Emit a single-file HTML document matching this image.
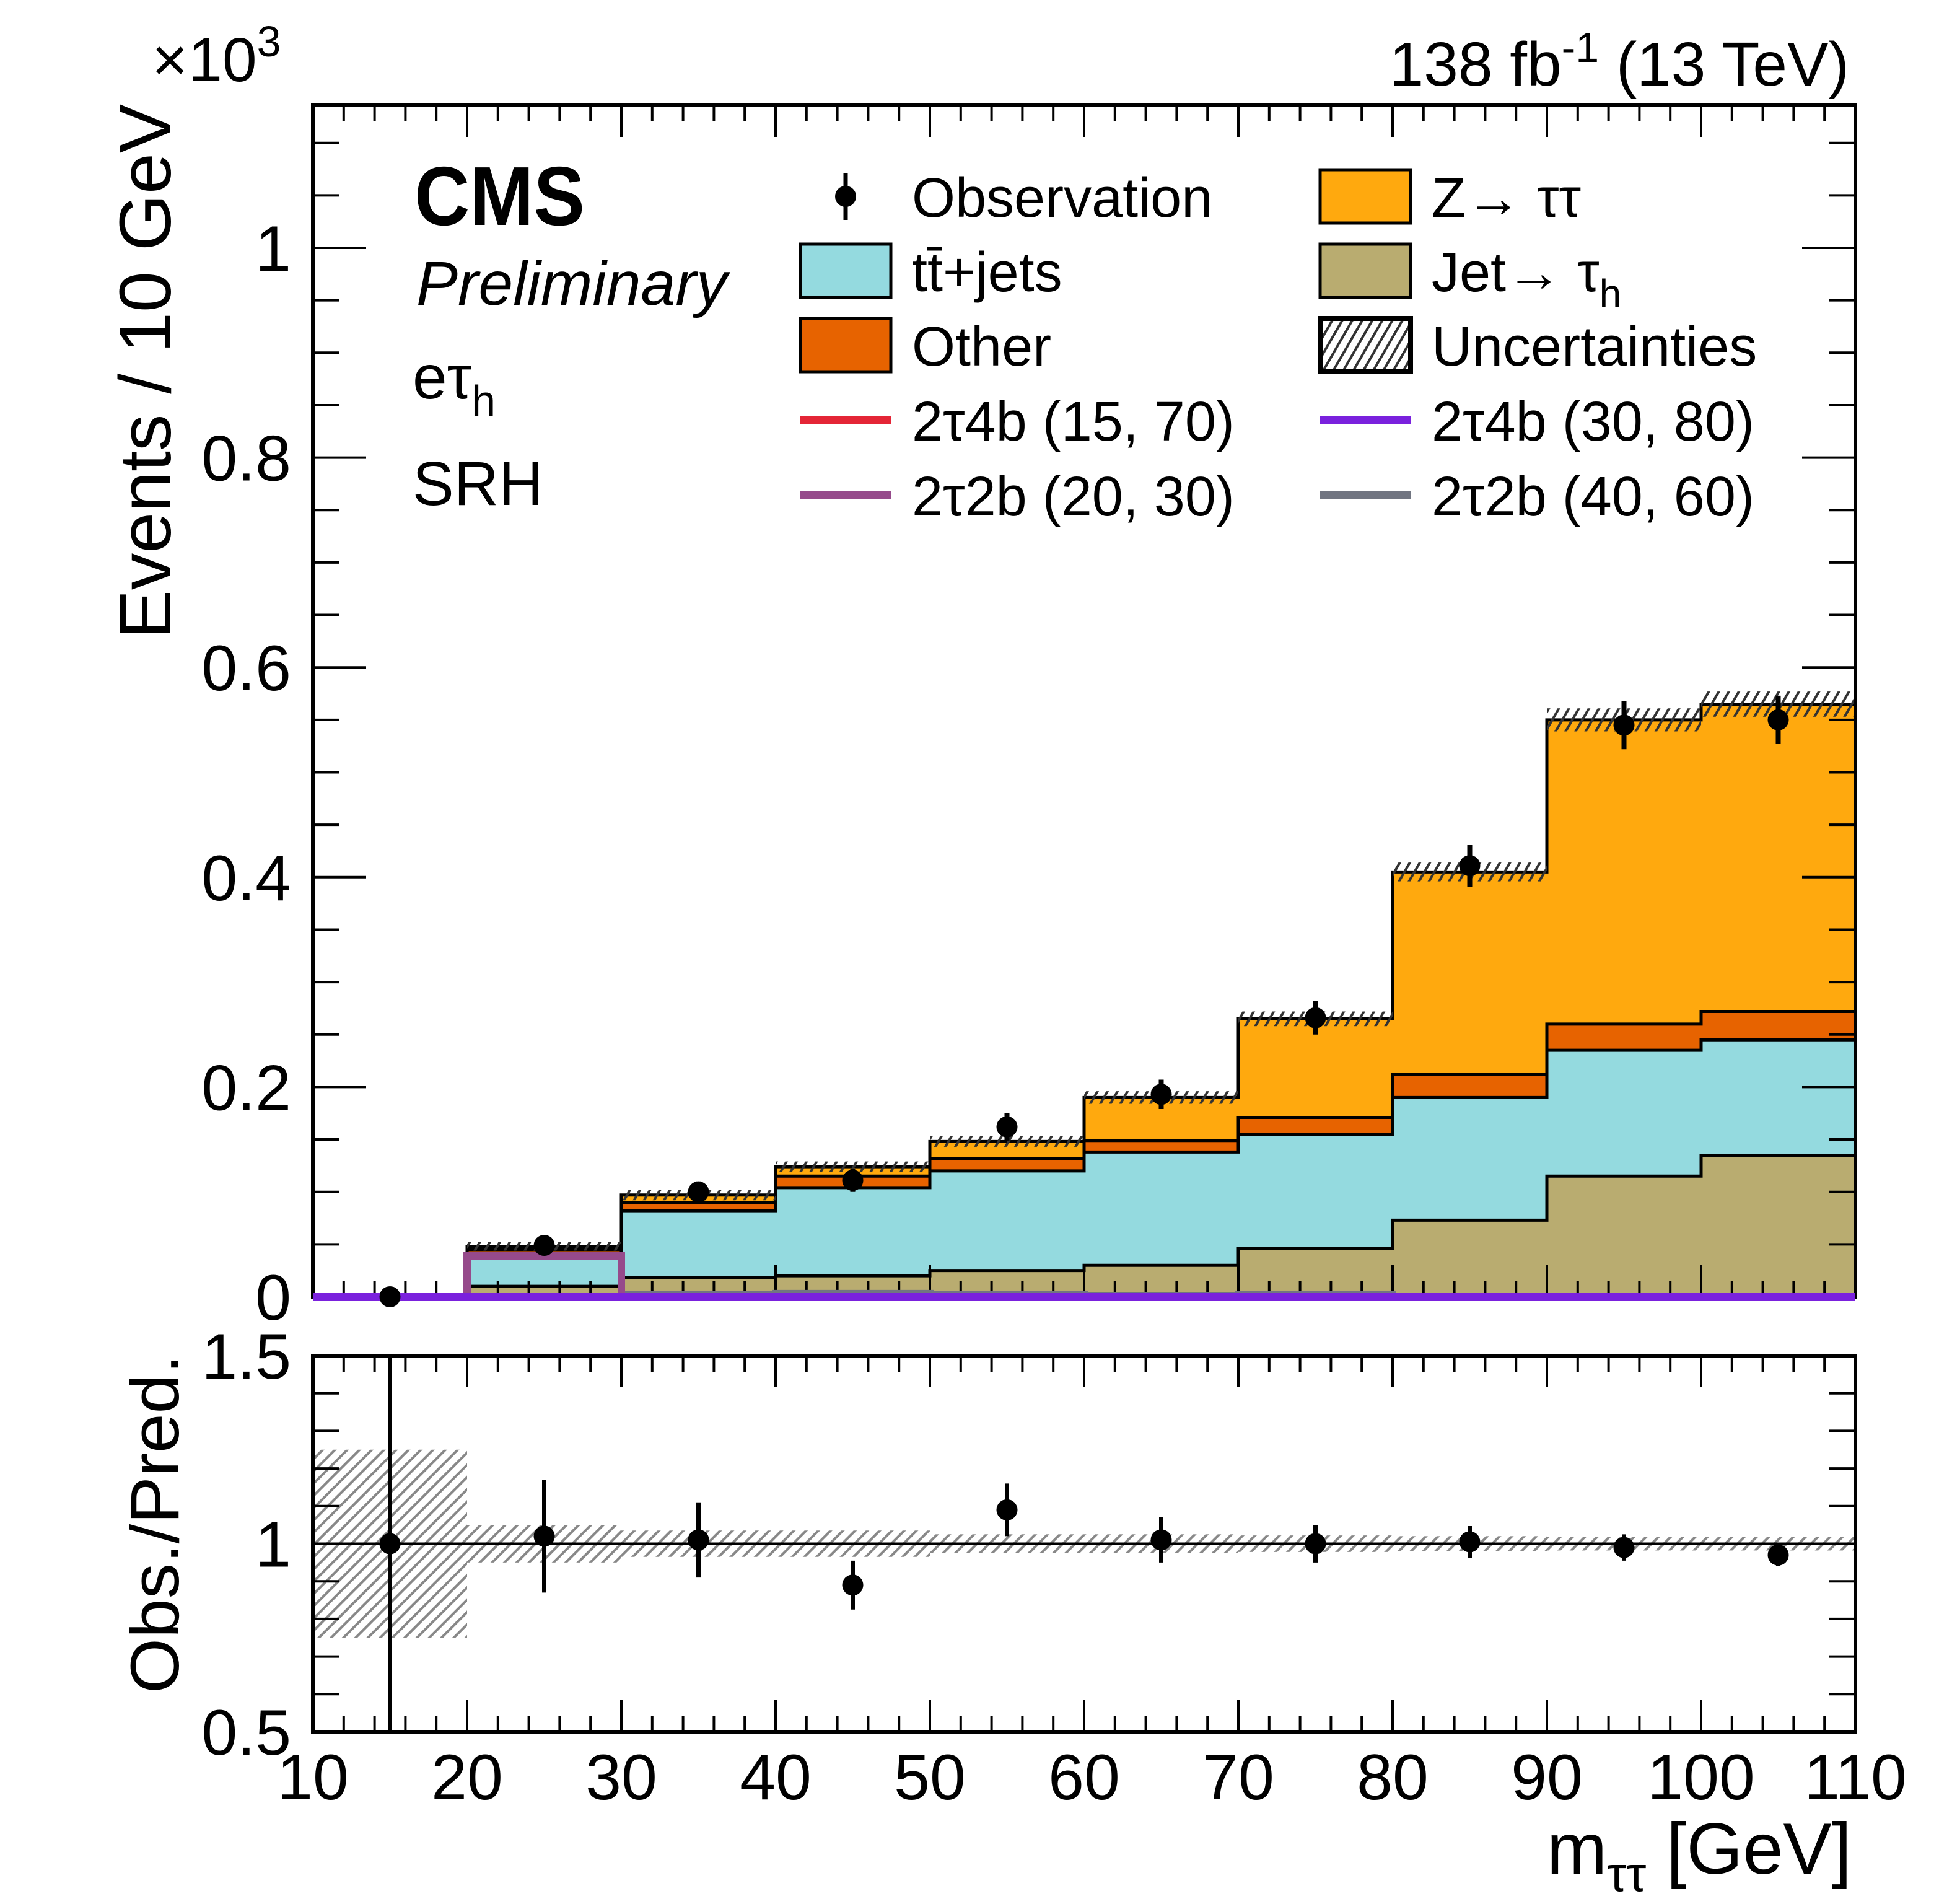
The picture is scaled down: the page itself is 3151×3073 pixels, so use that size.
<!DOCTYPE html>
<html><head><meta charset="utf-8">
<style>
html,body{margin:0;padding:0;background:#fff;}
svg{display:block;font-family:"Liberation Sans",Arial,sans-serif;}
</style></head>
<body>
<svg id="chart" width="3151" height="3073" viewBox="0 0 3151 3073" xmlns="http://www.w3.org/2000/svg">
<defs>
<pattern id="hatch" patternUnits="userSpaceOnUse" width="14" height="14" patternTransform="rotate(-60)">
<rect width="14" height="14" fill="none"/><line x1="0" y1="7" x2="14" y2="7" stroke="#333" stroke-width="4"/>
</pattern>
<pattern id="hatchg" patternUnits="userSpaceOnUse" width="14" height="14" patternTransform="rotate(-45)">
<line x1="0" y1="7" x2="14" y2="7" stroke="#888" stroke-width="4"/>
</pattern>
</defs>
<g id="main"></g>
<g id="ratio"></g>
<g id="frames"></g>
<g id="signals"></g>
<g id="points"></g>
<g id="texts">
<text x="2985" y="138" font-size="100" text-anchor="end">138 fb<tspan dy="-38" font-size="68">-1</tspan><tspan dy="38"> (13 TeV)</tspan></text>
<text x="245" y="131" font-size="100">×10<tspan dy="-40" font-size="70">3</tspan></text>
<text x="669" y="363" font-size="135" font-weight="bold" textLength="275" lengthAdjust="spacingAndGlyphs">CMS</text>
<text x="672" y="492" font-size="100" font-style="italic" textLength="502" lengthAdjust="spacingAndGlyphs">Preliminary</text>
<text x="666" y="643" font-size="100">eτ<tspan dy="28" font-size="70">h</tspan></text>
<text x="666" y="815" font-size="100">SRH</text>
<text transform="translate(275,1031) rotate(-90)" font-size="118" textLength="863" lengthAdjust="spacingAndGlyphs">Events / 10 GeV</text>
<text transform="translate(288,2733) rotate(-90)" font-size="110" textLength="547" lengthAdjust="spacingAndGlyphs">Obs./Pred.</text>
<text x="2989" y="3024" font-size="117" text-anchor="end">m<tspan dy="28" font-size="80">ττ</tspan><tspan dy="-28"> [GeV]</tspan></text>
</g>
<g id="legend"></g>
</svg>
<script>
const edges = [10,20,30,40,50,60,70,80,90,100,110];
const jetTau = [0, 0.010, 0.018, 0.020, 0.025, 0.030, 0.046, 0.073, 0.115, 0.135];
const ttJets = [0, 0.030, 0.064, 0.084, 0.095, 0.108, 0.109, 0.117, 0.120, 0.110];
const other = [0, 0.005, 0.008, 0.011, 0.012, 0.011, 0.016, 0.022, 0.025, 0.027];
const ztautau = [0, 0.003, 0.007, 0.009, 0.016, 0.041, 0.094, 0.193, 0.290, 0.293];
const bkgUnc = [0.001, 0.004, 0.005, 0.005, 0.005, 0.006, 0.007, 0.009, 0.011, 0.012];
const obsVals = [0.0, 0.049, 0.100, 0.111, 0.162, 0.193, 0.266, 0.411, 0.545, 0.550];
const obsErr = [0.001, 0.007, 0.010, 0.011, 0.013, 0.014, 0.016, 0.020, 0.023, 0.023];
const sig2t2b_20_30 = [0, 0.039, 0, 0, 0, 0, 0, 0, 0, 0];
const sig2t4b_30_80 = [0, 0, 0, 0, 0, 0, 0, 0, 0, 0];
const sig2t4b_15_70 = [0, 0, 0, 0, 0, 0, 0, 0, 0, 0];
const sig2t2b_40_60 = [0, 0, 0.002, 0.003, 0.002, 0.001, 0.002, 0, 0, 0];
const ratioVals = [1.0, 1.02, 1.01, 0.89, 1.09, 1.01, 1.0, 1.005, 0.99, 0.97];
const ratioErr = [0.6, 0.15, 0.10, 0.065, 0.07, 0.06, 0.05, 0.042, 0.035, 0.03];
const ratioUnc = [0.25, 0.05, 0.035, 0.035, 0.025, 0.025, 0.022, 0.02, 0.018, 0.018];
const mainTicks = [0, 0.2, 0.4, 0.6, 0.8, 1];
const mainTickLabels = ["0","0.2","0.4","0.6","0.8","1"];
const ratioTicks = [0.5, 1, 1.5];
const ratioTickLabels = ["0.5","1","1.5"];
const xTicks = [10,20,30,40,50,60,70,80,90,100,110];

const NS="http://www.w3.org/2000/svg";
const L=505,R=2995,MT=170,MB=2093,RT=2188,RB=2795;
const YMAX=(MB-MT)/1693;
const sx=v=>L+(v-10)*(R-L)/100;
const sy=v=>MB-v*(MB-MT)/YMAX;
const ry=v=>RB-(v-0.5)*(RB-RT);
function el(tag,attrs,parent){const e=document.createElementNS(NS,tag);for(const k in attrs)e.setAttribute(k,attrs[k]);parent.appendChild(e);return e;}
const main=document.getElementById('main'),ratio=document.getElementById('ratio'),frames=document.getElementById('frames'),lg=document.getElementById('legend'),sigs=document.getElementById('signals'),pts=document.getElementById('points');

function stepPath(top,base){let d='';for(let i=0;i<top.length;i++){d+=(i?'L':'M')+sx(edges[i])+' '+sy(top[i])+' L'+sx(edges[i+1])+' '+sy(top[i]);}
for(let i=top.length-1;i>=0;i--){d+=' L'+sx(edges[i+1])+' '+sy(base[i])+' L'+sx(edges[i])+' '+sy(base[i]);}return d+'Z';}
function stepLine(top){let d='';for(let i=0;i<top.length;i++){d+=(i?'L':'M')+sx(edges[i])+' '+sy(top[i])+' L'+sx(edges[i+1])+' '+sy(top[i]);}return d;}
const c1=jetTau.map(v=>v);
const c2=c1.map((v,i)=>v+ttJets[i]);
const c3=c2.map((v,i)=>v+other[i]);
const c4=c3.map((v,i)=>v+ztautau[i]);
const zero=c1.map(()=>0);
const layers=[[c4,c3,'#ffa90e','ztautau-stack'],[c3,c2,'#e76300','other-stack'],[c2,c1,'#94dadf','ttjets-stack'],[c1,zero,'#b9ac70','jet-fake-stack']];
layers.forEach(([t,b,c,n])=>{
  const p=el('path',{d:stepPath(t,b),fill:c,stroke:'none'},main);
  
  
});
[c4,c3,c2,c1].forEach((t)=>{
  const p=el('path',{d:stepLine(t),fill:'none',stroke:'#000','stroke-width':5},main);
  
  
});
for(let i=0;i<c4.length;i++){
  const r=el('rect',{x:sx(edges[i]),y:sy(c4[i]+bkgUnc[i]),width:sx(edges[i+1])-sx(edges[i]),height:sy(c4[i]-bkgUnc[i])-sy(c4[i]+bkgUnc[i]),fill:'url(#hatch)'},main);
  
  
}
[[sig2t2b_40_60,'#717581','signal-2t2b-40-60'],[sig2t4b_15_70,'#e42536','signal-2t4b-15-70'],[sig2t2b_20_30,'#964a8b','signal-2t2b-20-30'],[sig2t4b_30_80,'#7a21dd','signal-2t4b-30-80']].forEach(([v,c,n])=>{
  let d='M'+sx(edges[0])+' '+sy(0);
  for(let i=0;i<v.length;i++){d+=' L'+sx(edges[i])+' '+sy(v[i])+' L'+sx(edges[i+1])+' '+sy(v[i]);}
  d+=' L'+sx(edges[v.length])+' '+sy(0);
  const p=el('path',{d:d,fill:'none',stroke:c,'stroke-width':12},sigs);
  
  
});
for(let i=0;i<obsVals.length;i++){
  const cx=sx((edges[i]+edges[i+1])/2);
  const g=el('g',{},pts);
  
  
  el('line',{x1:cx,x2:cx,y1:sy(obsVals[i]-obsErr[i]),y2:sy(obsVals[i]+obsErr[i]),stroke:'#000','stroke-width':8},g);
  el('ellipse',{cx:cx,cy:sy(obsVals[i]),rx:17,ry:17,fill:'#000'},g);
}
for(let i=0;i<ratioUnc.length;i++){
  const r=el('rect',{x:sx(edges[i]),y:ry(1+ratioUnc[i]),width:sx(edges[i+1])-sx(edges[i]),height:ry(1-ratioUnc[i])-ry(1+ratioUnc[i]),fill:'url(#hatchg)'},ratio);
  
  
}
const one=el('line',{x1:L,x2:R,y1:ry(1),y2:ry(1),stroke:'#000','stroke-width':4},ratio);


for(let i=0;i<ratioVals.length;i++){
  const cx=sx((edges[i]+edges[i+1])/2);
  const g=el('g',{},ratio);
  
  
  const lo=Math.max(0.5,ratioVals[i]-ratioErr[i]),hi=Math.min(1.5,ratioVals[i]+ratioErr[i]);
  el('line',{x1:cx,x2:cx,y1:ry(lo),y2:ry(hi),stroke:'#000','stroke-width':7},g);
  el('ellipse',{cx:cx,cy:ry(ratioVals[i]),rx:17,ry:17,fill:'#000'},g);
}
function frame(t,b,name){const r=el('rect',{x:L,y:t,width:R-L,height:b-t,fill:'none',stroke:'#000','stroke-width':6},frames);}
frame(MT,MB,'main-frame');frame(RT,RB,'ratio-frame');
function tk(x1,y1,x2,y2){el('line',{x1:x1,y1:y1,x2:x2,y2:y2,stroke:'#000','stroke-width':4},frames);}
for(let v=10;v<=110;v+=2){const x=sx(v);const len=(v%10===0)?51:26;
  tk(x,MT,x,MT+len);tk(x,MB,x,MB-len);tk(x,RT,x,RT+len);tk(x,RB,x,RB-len);}
for(let k=0;k<=22;k++){const v=k*0.05;const y=sy(v);const len=(k%4===0)?86:43;tk(L,y,L+len,y);tk(R,y,R-len,y);}
for(let k=0;k<=10;k++){const v=0.5+k*0.1;const y=ry(v);const len=(k%5===0)?86:43;tk(L,y,L+len,y);tk(R,y,R-len,y);}
mainTicks.forEach((v,i)=>{const t=el('text',{x:470,y:sy(v)+37,'font-size':104,'text-anchor':'end'},frames);t.textContent=mainTickLabels[i];
  
  });
ratioTicks.forEach((v,i)=>{const t=el('text',{x:470,y:ry(v)+37,'font-size':104,'text-anchor':'end'},frames);t.textContent=ratioTickLabels[i];
  
  });
xTicks.forEach(v=>{const t=el('text',{x:sx(v),y:2904,'font-size':104,'text-anchor':'middle'},frames);t.textContent=String(v);
  
  });
const rows=[317,437,557,678,799];
const entries=[
 [0,0,'marker','#000','Observation'],[1,0,'box','#ffa90e','Z→ ττ'],
 [0,1,'box','#94dadf','tt̄+jets'],[1,1,'box','#b9ac70','Jet→ τ|h'],
 [0,2,'box','#e76300','Other'],[1,2,'hatch','','Uncertainties'],
 [0,3,'line','#e42536','2τ4b (15, 70)'],[1,3,'line','#7a21dd','2τ4b (30, 80)'],
 [0,4,'line','#964a8b','2τ2b (20, 30)'],[1,4,'line','#717581','2τ2b (40, 60)']];
entries.forEach(([c,r,kind,col,label])=>{
  const bx=1292+c*839,cy=rows[r];
  const g=el('g',{},lg);
  
  
  if(kind==='box') el('rect',{x:bx,y:cy-43,width:146,height:86,fill:col,stroke:'#000','stroke-width':5},g);
  else if(kind==='hatch') el('rect',{x:bx,y:cy-43,width:146,height:86,fill:'url(#hatch)',stroke:'#000','stroke-width':8},g);
  else if(kind==='line') el('line',{x1:bx,x2:bx+146,y1:cy,y2:cy,stroke:col,'stroke-width':12},g);
  else {el('line',{x1:bx+73,x2:bx+73,y1:cy-38,y2:cy+38,stroke:'#000','stroke-width':7},g);el('ellipse',{cx:bx+73,cy:cy,rx:17,ry:17,fill:'#000'},g);}
  const t=el('text',{x:bx+180,y:cy+33,'font-size':90},g);
  const parts=label.split('|');
  t.textContent=parts[0];
  if(parts[1]){const s=el('tspan',{dy:26,'font-size':64},t);s.textContent=parts[1];}
});
</script>
</body></html>
